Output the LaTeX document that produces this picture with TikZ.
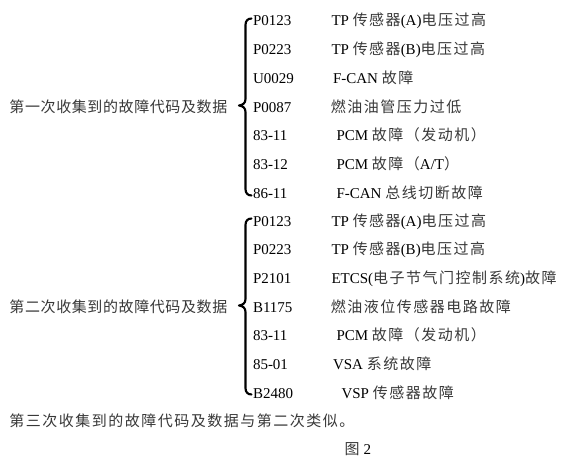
\documentclass[tikz,border=0pt]{standalone}
\usepackage{fontspec}
\setmainfont{Liberation Serif}
\newfontfamily\cjkmid[LetterSpace=10]{Noto Sans CJK SC}
\newfontfamily\cjknarrow[LetterSpace=4]{Noto Sans CJK SC}
\newcommand\zh[1]{{\cjkmid\color{black!78}#1}}
\newcommand\zhn[1]{{\cjknarrow\color{black!78}#1}}
\tikzset{
  txt/.style={anchor=base west, inner sep=0pt, outer sep=0pt, font=\fontsize{11.25}{13}\selectfont},
  brace/.style={line width=1.6pt, line cap=round, line join=round}
}
\begin{document}
\begin{tikzpicture}[x=0.75pt, y=-0.75pt]
\useasboundingbox (0,0) rectangle (569,464);
% ---------- group 1 ----------
\node[txt] (L1) at (9.5,112.3) {\zhn{第一次收集到的故障代码及数据}};
\node[txt] (c11) at (253,26)    {P0123};
\node[txt] (c12) at (253,54.7)  {P0223};
\node[txt] (c13) at (253,83.4)  {U0029};
\node[txt] (c14) at (253,112.1) {P0087};
\node[txt] (c15) at (253,140.8) {83-11};
\node[txt] (c16) at (253,169.5) {83-12};
\node[txt] (c17) at (253,198.2) {86-11};
\node[txt] (d11) at (331.5,26)    {TP \zh{传感器}(A)\zh{电压过高}};
\node[txt] (d12) at (331.5,54.7)  {TP \zh{传感器}(B)\zh{电压过高}};
\node[txt] (d13) at (333,83.4)    {F-CAN \zh{故障}};
\node[txt] (d14) at (330.8,112.1) {\zh{燃油油管压力过低}};
\node[txt] (d15) at (336.5,140.8) {PCM \zh{故障（发动机）}};
\node[txt] (d16) at (336.5,169.5) {PCM \zh{故障（}A/T\zh{）}};
\node[txt] (d17) at (336.5,198.2) {F-CAN \zh{总线切断故障}};
\draw[brace] (251.5,18.5) .. controls (247.5,18.5) and (245.5,21) .. (245.5,25)
  -- (245.5,99) .. controls (245.5,103) and (243,105) .. (239,105.5)
  .. controls (243,106) and (245.5,108) .. (245.5,112)
  -- (245.5,189) .. controls (245.5,193) and (247.5,195.5) .. (251.5,195.5);
% ---------- group 2 ----------
\node[txt] (L2) at (9.5,312.3) {\zhn{第二次收集到的故障代码及数据}};
\node[txt] (c21) at (253,226)   {P0123};
\node[txt] (c22) at (253,254.7) {P0223};
\node[txt] (c23) at (253,283.4) {P2101};
\node[txt] (c24) at (253,312.1) {B1175};
\node[txt] (c25) at (253,340.8) {83-11};
\node[txt] (c26) at (253,369.5) {85-01};
\node[txt] (c27) at (253,398.2) {B2480};
\node[txt] (d21) at (331.5,226)   {TP \zh{传感器}(A)\zh{电压过高}};
\node[txt] (d22) at (331.5,254.7) {TP \zh{传感器}(B)\zh{电压过高}};
\node[txt] (d23) at (331.5,283.4) {ETCS(\zh{电子节气门控制系统})\zh{故障}};
\node[txt] (d24) at (330.8,312.1) {\zh{燃油液位传感器电路故障}};
\node[txt] (d25) at (336.5,340.8) {PCM \zh{故障（发动机）}};
\node[txt] (d26) at (333,369.5)   {VSA \zh{系统故障}};
\node[txt] (d27) at (341.5,398.2) {VSP \zh{传感器故障}};
\draw[brace] (251.5,218.5) .. controls (247.5,218.5) and (245.5,221) .. (245.5,225)
  -- (245.5,299) .. controls (245.5,303) and (243,305) .. (239,305.5)
  .. controls (243,306) and (245.5,308) .. (245.5,312)
  -- (245.5,388) .. controls (245.5,392) and (247.5,394.5) .. (251.5,394.5);
% ---------- bottom ----------
\node[txt] (note) at (9.5,426.3) {\zh{第三次收集到的故障代码及数据与第二次类似。}};
\node[txt] (fig) at (344.5,454) {\zh{图}\hspace{3pt}2};
\end{tikzpicture}
\end{document}
